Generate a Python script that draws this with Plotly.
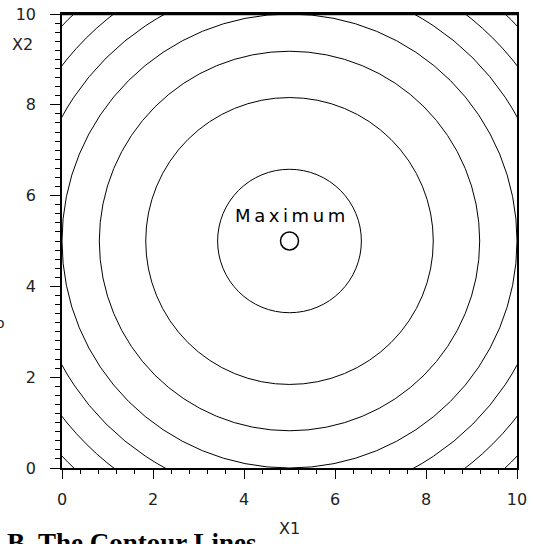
import plotly.graph_objects as go

# contour radii (circles centred on the maximum)
max_x = [5]
max_y = [5]
contour_radii = [1.58, 3.16, 4.18, 5.0, 5.70, 6.32, 6.89]
tick_vals = [0, 2, 4, 6, 8, 10]
tick_text = ["0", "2", "4", "6", "8", "10"]

FONT = "DejaVu Sans"

fig = go.Figure()
fig.add_trace(
    go.Scatter(
        x=max_x,
        y=max_y,
        mode="markers",
        marker={"symbol": "circle-open", "size": 18, "color": "black", "line": {"width": 1.5, "color": "black"}},
        showlegend=False,
        hoverinfo="skip",
    )
)

for r in contour_radii:
    fig.add_shape(
        type="circle",
        xref="x",
        yref="y",
        x0=max_x[0] - r,
        x1=max_x[0] + r,
        y0=max_y[0] - r,
        y1=max_y[0] + r,
        line={"color": "black", "width": 1},
        layer="above",
    )

fig.add_annotation(
    x=max_x[0],
    y=max_y[0],
    text="M\u2009a\u2009x\u2009i\u2009m\u2009u\u2009m",
    showarrow=False,
    yshift=26,
    font={"family": FONT, "size": 18, "color": "black"},
)

axis_common = dict(
    range=[0, 10],
    tickvals=tick_vals,
    ticktext=tick_text,
    ticks="outside",
    tickcolor="black",
    tickwidth=1,
    showline=True,
    linecolor="black",
    linewidth=1.5,
    mirror=True,
    showgrid=False,
    zeroline=False,
    automargin=False,
    tickfont={"family": FONT, "size": 16, "color": "#222"},
)

fig.update_xaxes(
    **axis_common,
    ticklen=9,
    ticklabelstandoff=7,
    minor={"dtick": 0.4, "ticks": "outside", "ticklen": 4, "tickcolor": "black", "showgrid": False},
)
fig.update_yaxes(
    **axis_common,
    ticklen=10,
    ticklabelstandoff=11,
    minor={"dtick": 0.2, "ticks": "outside", "ticklen": 5, "tickcolor": "black", "showgrid": False},
)

# thicker top frame line
fig.add_shape(type="line", xref="paper", yref="paper", x0=0, x1=1, y0=1, y1=1,
              line={"color": "black", "width": 2.5})

fig.add_annotation(
    xref="paper", yref="paper", x=(35 - 62) / 455, y=1 - (45 - 14) / 454,
    xanchor="right", yanchor="middle", text="X2", showarrow=False,
    font={"family": FONT, "size": 16, "color": "#222"},
)
fig.add_annotation(
    xref="paper", yref="paper", x=0.5, y=-(528 - 468) / 454,
    xanchor="center", yanchor="middle", text="X1", showarrow=False,
    font={"family": FONT, "size": 16, "color": "#222"},
)
fig.add_annotation(
    xref="paper", yref="paper", x=(0 - 62) / 455, y=1 - (323 - 14) / 454,
    xanchor="center", yanchor="middle", text="o", showarrow=False,
    font={"family": FONT, "size": 14, "color": "#222"},
)
fig.add_annotation(
    xref="paper", yref="paper", x=(5 - 62) / 455, y=-(526 - 468) / 454,
    xanchor="left", yanchor="top", text="<b>B. The Contour Lines</b>", showarrow=False,
    font={"family": "Liberation Serif", "size": 27, "color": "black"},
)

fig.update_layout(
    width=533,
    height=544,
    margin={"l": 62, "r": 16, "t": 14, "b": 76},
    paper_bgcolor="white",
    plot_bgcolor="white",
    showlegend=False,
)

# drop the browser's default body margin so the figure sits at the page corner
fig.write_html(
    "out.html",
    config={"displayModeBar": False},
    post_script="document.body.style.margin='0';document.body.style.overflow='hidden';",
)
